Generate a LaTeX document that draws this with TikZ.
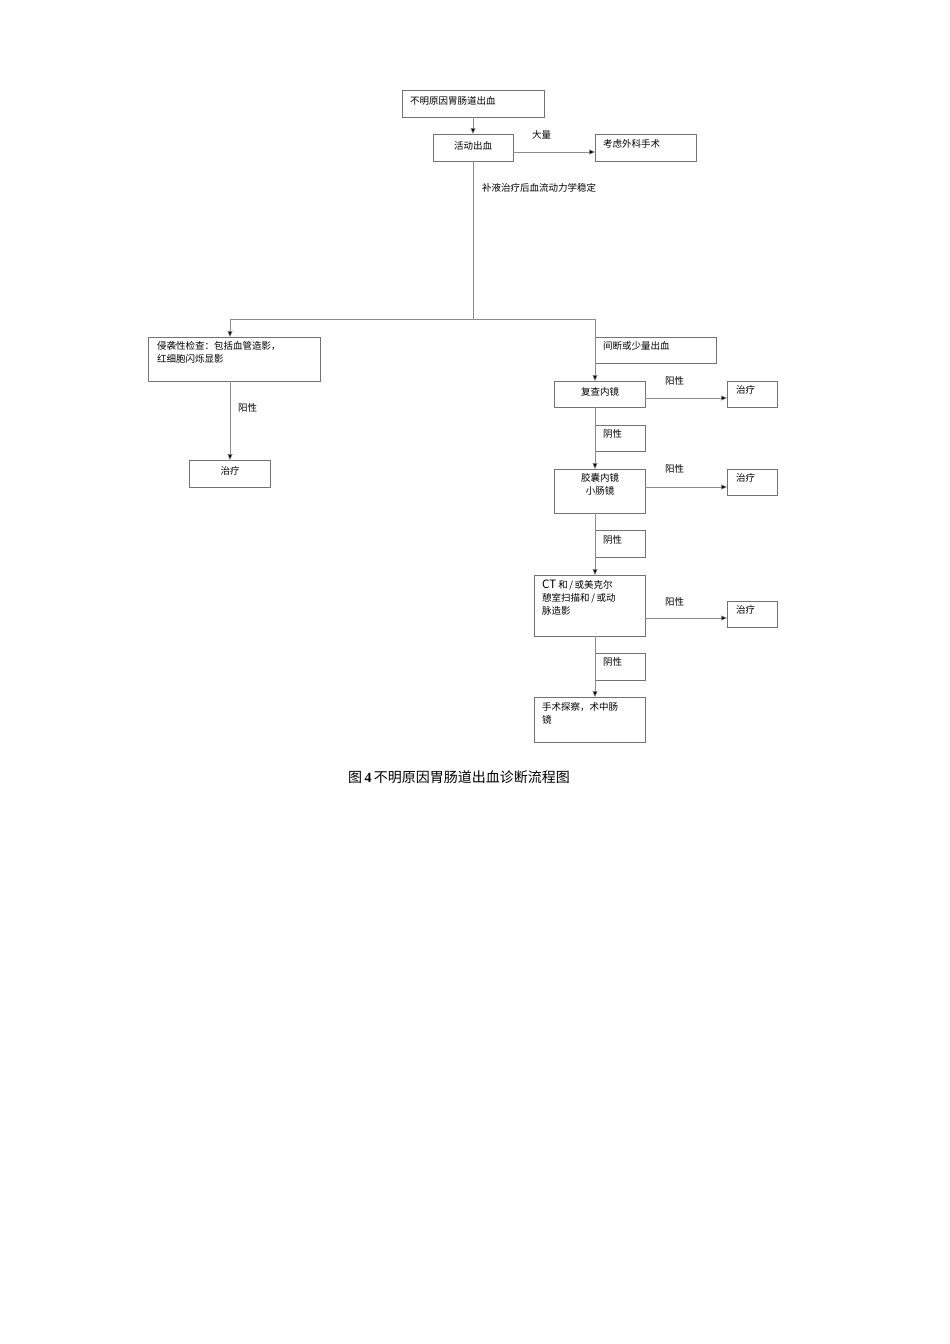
\documentclass[tikz,border=0pt]{standalone}
\usepackage{fontspec}
\setmainfont{Liberation Serif}
\newfontfamily\cjk{Noto Sans CJK SC}
\usetikzlibrary{arrows.meta}
\begin{document}
\begin{tikzpicture}[x=1pt,y=-1pt,
  bx/.style={draw=black!55,line width=0.5pt},
  ln/.style={draw=black!45,line width=0.5pt},
  ar/.style={ln,-{Triangle[length=6pt,width=5pt,fill=black]}},
  tx/.style={font=\cjk\fontsize{9.5}{13}\selectfont,inner sep=0pt,anchor=north west,align=left}]
\useasboundingbox (0,0) rectangle (950,1344);
\fill[white] (0,0) rectangle (950,1344);
% boxes
\draw[bx] (402,90) rectangle (544,117); \node[tx] (a) at (410,96) {不明原因胃肠道出血};
\draw[bx] (433,134) rectangle (513,161); \node[tx,anchor=center] (b) at (473,146) {活动出血};
\draw[bx] (595,134) rectangle (696,161); \node[tx] (c) at (603,139) {考虑外科手术};
\node[tx] at (532,130) {大量};
\draw[ar] (513,152) -- (595,152);
\draw[ln] (473,117) -- (473,117);
\draw[ar] (473,117) -- (473,134);
\draw[ln] (473,161) -- (473,319);
\node[tx] at (482,183) {补液治疗后血流动力学稳定};
\draw[ln] (230,319) -- (595,319);
\draw[ar] (230,319) -- (230,337);
\draw[bx] (148,337) rectangle (320,381);
\node[tx] (d) at (157,341) {侵袭性检查：包括血管造影，\\红细胞闪烁显影};
\draw[ar] (230,381) -- (230,460);
\node[tx] at (238,403) {阳性};
\draw[bx] (189,460) rectangle (270,487); \node[tx,anchor=center] (e) at (230,471) {治疗};
% right column
\draw[bx] (595,337) rectangle (716,363); \node[tx] at (603,341) {间断或少量出血};
\draw[ar] (595,319) -- (595,381);
\draw[bx] (554,381) rectangle (645,407); \node[tx,anchor=center] (f) at (600,392) {复查内镜};
\draw[ar] (645,398) -- (727,398); \node[tx] at (665,376) {阳性};
\draw[bx] (727,381) rectangle (777,407); \node[tx] (g) at (736,385) {治疗};
\draw[bx] (595,425) rectangle (645,451); \node[tx] at (603,429) {阴性};
\draw[ar] (595,407) -- (595,469);
\draw[bx] (554,469) rectangle (645,513); \node[tx,align=center,anchor=north] (h) at (600,473) {胶囊内镜\\小肠镜};
\draw[ar] (645,487) -- (727,487); \node[tx] at (665,464) {阳性};
\draw[bx] (727,469) rectangle (777,495); \node[tx] (i) at (736,473) {治疗};
\draw[bx] (595,530) rectangle (645,557); \node[tx] at (603,535) {阴性};
\draw[ar] (595,513) -- (595,575);
\draw[bx] (534,575) rectangle (645,636);
\node[tx] (j) at (542,580) {{\fontsize{11.5}{13}\selectfont CT} 和\,/\,或美克尔\\憩室扫描和\,/\,或动\\脉造影};
\draw[ar] (645,618) -- (727,618); \node[tx] at (665,597) {阳性};
\draw[bx] (727,601) rectangle (777,627); \node[tx] (k) at (736,605) {治疗};
\draw[bx] (595,653) rectangle (645,680); \node[tx] at (603,657) {阴性};
\draw[ar] (595,636) -- (595,697);
\draw[bx] (534,697) rectangle (645,742);
\node[tx] (l) at (542,702) {手术探察，术中肠\\镜};
\node[font=\fontsize{14}{16}\selectfont,inner sep=0pt] (cap) at (459,777) {{\cjk 图}\,\textbf{4}\,{\cjk 不明原因胃肠道出血诊断流程图}};
\end{tikzpicture}
\end{document}
